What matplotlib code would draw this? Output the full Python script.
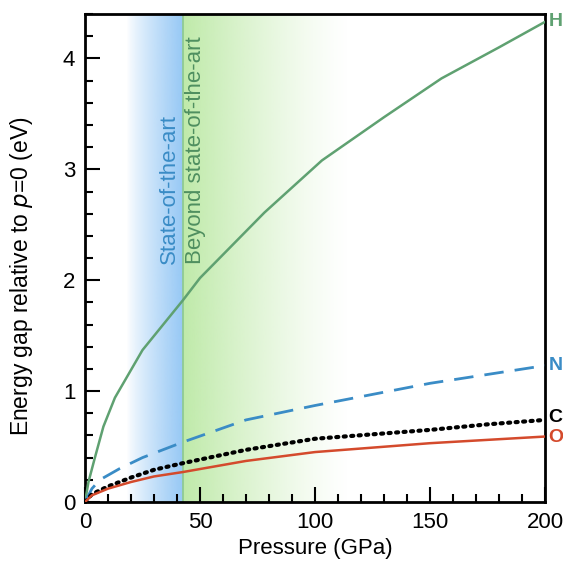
import numpy as np
import matplotlib.pyplot as plt
from matplotlib.colors import to_rgb
from matplotlib.ticker import MultipleLocator

plt.rcParams['font.family'] = ['Liberation Sans', 'DejaVu Sans']

# data (pressure in GPa, gap change in eV)
p_H = [0, 1.5, 4.3, 8, 13, 25, 42.6, 50, 78, 103, 130, 155, 180, 200]
gap_H = [0, 0.18, 0.4, 0.68, 0.94, 1.37, 1.82, 2.02, 2.61, 3.08, 3.47, 3.82, 4.1, 4.33]

p_N = [0, 3, 6.5, 15, 25, 42.6, 70, 100, 125, 150, 175, 200]
gap_N = [0, 0.12, 0.2, 0.3, 0.4, 0.54, 0.74, 0.87, 0.97, 1.07, 1.15, 1.23]

p_C = [0, 3, 10, 20, 30, 42.6, 70, 100, 125, 150, 175, 200]
gap_C = [0, 0.07, 0.14, 0.22, 0.29, 0.35, 0.47, 0.57, 0.61, 0.65, 0.7, 0.74]

p_O = [0, 3, 10, 20, 30, 42.6, 70, 100, 125, 150, 175, 200]
gap_O = [0, 0.06, 0.12, 0.18, 0.23, 0.27, 0.37, 0.45, 0.49, 0.53, 0.56, 0.59]

labels = ['H', 'N', 'C', 'O']
colors = ['#5fa171', '#3a8cc6', '#000000', '#d44a2c']

p_sota = 42.6     # state-of-the-art limit
blue_start = 18
green_end = 115

fig = plt.figure(figsize=(5.63, 5.64), dpi=100)
ax = fig.add_axes([0.151, 0.110, 0.817, 0.865])
ymax = 4.4

# gradient bands
n = 400
xs = np.linspace(0, 200, n)
img = np.zeros((1, n, 4))
blue = to_rgb('#96c8f5')
green = to_rgb('#bfeaa9')
for i, x in enumerate(xs):
    if blue_start <= x < p_sota:
        t = (x - blue_start) / (p_sota - blue_start)
        img[0, i, :3] = blue
        img[0, i, 3] = t ** 0.8
    elif p_sota <= x <= green_end:
        t = (x - p_sota) / (green_end - p_sota)
        img[0, i, :3] = green
        img[0, i, 3] = (1 - t) ** 1.3 * 0.95 + 0.05 * (1 - t)
ax.imshow(img, extent=[0, 200, 0, ymax], aspect='auto', interpolation='bilinear', zorder=0)
ax.axvline(p_sota, color='#8cc890', lw=1.2, zorder=1)

ax.plot(p_H, gap_H, color=colors[0], lw=1.8, zorder=3)
ax.plot(p_N, gap_N, color=colors[1], lw=2.0, dashes=(7, 4), zorder=3)
ax.plot(p_C, gap_C, color=colors[2], lw=3.0, linestyle=(0, (0.5, 1.3)), dash_capstyle='round', zorder=3)
ax.plot(p_O, gap_O, color=colors[3], lw=1.8, zorder=3)

ends = [gap_H[-1], gap_N[-1], gap_C[-1] + 0.02, gap_O[-1] - 0.01]
for lab, col, yv in zip(labels, colors, ends):
    ax.text(201.5, yv, lab, color=col, fontsize=14, fontweight='bold',
            ha='left', va='center', clip_on=False)

ax.text(p_sota - 5.8, 2.15, 'State-of-the-art', rotation=90, ha='center', va='bottom',
        color='#3a8cc6', fontsize=16)
ax.text(p_sota + 5.4, 2.15, 'Beyond state-of-the-art', rotation=90, ha='center', va='bottom',
        color='#4f8f60', fontsize=16)

ax.set_xlim(0, 200)
ax.set_ylim(0, ymax)
ax.set_xticks([0, 50, 100, 150, 200])
ax.set_yticks([0, 1, 2, 3, 4])
ax.xaxis.set_minor_locator(MultipleLocator(10))
ax.yaxis.set_minor_locator(MultipleLocator(0.2))
ax.tick_params(which='both', direction='in', width=1.5, labelsize=16, top=False, right=False)
ax.tick_params(which='major', length=11, pad=7)
ax.tick_params(which='minor', length=6)
for s in ax.spines.values():
    s.set_linewidth(2)

ax.set_xlabel('Pressure (GPa)', fontsize=16, labelpad=4)
ax.set_ylabel('Energy gap relative to $p$=0 (eV)', fontsize=16.5)
ax.yaxis.set_label_coords(-0.108, 0.462)

fig.savefig('out.png', dpi=100)
